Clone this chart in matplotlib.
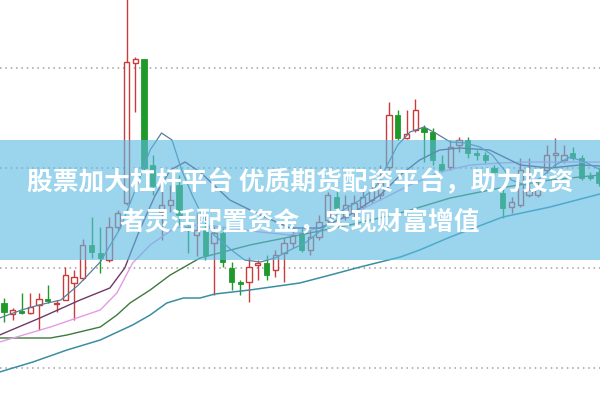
import numpy as np
import matplotlib
matplotlib.use('Agg')
import matplotlib.pyplot as plt
from matplotlib.patches import Rectangle

plt.rcParams['font.family'] = ['Noto Sans CJK SC', 'DejaVu Sans']

# %%
# candles (price units)
opens  = [1.65, 1.54, 1.57, 1.55, 1.63, 1.69, 1.64, 1.68, 1.85, 1.90,
          2.23, 2.15, 2.08, 2.41, 2.65, 4.05, 4.09, 3.03, 2.56, 2.63,
          2.83, 2.42, 2.33, 2.40, 2.25, 2.35, 2.00, 1.86, 1.86, 2.03,
          2.05, 1.98, 2.15, 2.25, 2.35, 2.18, 2.31, 2.48, 2.71, 2.51,
          2.55, 2.61, 2.68, 2.73, 3.01, 3.53, 3.30, 3.38, 3.40, 3.36,
          3.04, 3.01, 3.23, 3.28, 3.15, 3.13, 3.00, 2.75, 2.61, 2.63,
          2.73, 2.73, 2.98, 3.13, 3.08, 3.15, 3.10, 2.92, 2.96]
closes = [1.56, 1.58, 1.55, 1.61, 1.69, 1.67, 1.65, 1.93, 1.91, 2.23,
          2.16, 2.10, 2.41, 2.55, 4.06, 4.09, 3.00, 2.82, 2.63, 2.68,
          2.53, 2.40, 2.38, 2.13, 2.35, 2.06, 1.86, 1.84, 2.01, 2.05,
          1.93, 2.13, 2.25, 2.33, 2.18, 2.31, 2.46, 2.73, 2.60, 2.63,
          2.65, 2.71, 2.78, 2.88, 3.53, 3.30, 3.34, 3.58, 3.36, 3.08,
          2.98, 3.21, 3.28, 3.15, 3.13, 3.08, 2.96, 2.60, 2.66, 2.98,
          2.78, 2.80, 3.13, 3.15, 3.13, 3.10, 2.90, 2.90, 2.85]
highs  = [1.70, 1.60, 1.75, 1.75, 1.75, 1.83, 1.68, 2.01, 1.98, 2.29,
          2.51, 2.41, 2.51, 2.58, 4.73, 4.11, 4.09, 3.13, 2.78, 2.83,
          2.93, 2.55, 2.55, 2.55, 2.43, 2.40, 2.06, 1.88, 2.11, 2.08,
          2.13, 2.18, 2.30, 2.43, 2.40, 2.38, 2.53, 2.76, 2.78, 2.73,
          2.73, 2.78, 2.88, 3.03, 3.66, 3.58, 3.58, 3.69, 3.43, 3.40,
          3.13, 3.28, 3.31, 3.31, 3.18, 3.16, 3.03, 2.81, 2.71, 3.10,
          3.10, 2.88, 3.23, 3.30, 3.23, 3.21, 3.13, 2.96, 3.00]
lows   = [1.46, 1.48, 1.54, 1.54, 1.38, 1.65, 1.56, 1.68, 1.48, 1.88,
          2.10, 1.95, 2.06, 2.38, 2.63, 3.56, 2.98, 2.73, 2.28, 2.56,
          2.43, 2.15, 2.12, 2.08, 1.73, 2.01, 1.78, 1.73, 1.66, 1.88,
          1.88, 1.91, 1.86, 2.20, 2.16, 2.13, 2.28, 2.46, 2.48, 2.48,
          2.50, 2.58, 2.65, 2.68, 2.98, 3.28, 3.29, 3.36, 3.06, 3.03,
          2.96, 2.98, 3.16, 3.10, 3.08, 3.05, 2.93, 2.50, 2.55, 2.61,
          2.71, 2.71, 2.95, 3.01, 3.05, 3.08, 2.88, 2.88, 2.82]

# moving average lines (index, value)
ma5_x = [-0.5, 2, 4, 6.5, 8.5, 11, 13.3, 15, 16.7, 18, 19.2, 20.3, 21.5, 22.6,
         24, 26, 27.5, 29.3, 31, 32.7, 34.4, 36, 38.4, 40.7, 42.4, 43.5, 45,
         46.4, 48, 49.3, 51, 52.7, 54.4, 55.8, 57, 58, 59.5, 61.3, 63, 64.7,
         66.4, 68.2]
ma5_y = [1.50, 1.58, 1.63, 1.68, 1.83, 2.06, 2.40, 2.78, 3.18, 3.35, 3.28, 2.98,
         2.73, 2.53, 2.33, 2.18, 2.08, 2.06, 2.10, 2.18, 2.25, 2.36, 2.56, 2.68,
         2.80, 2.98, 3.23, 3.36, 3.41, 3.35, 3.26, 3.25, 3.21, 3.13, 3.00, 2.88,
         2.83, 2.90, 3.03, 3.11, 3.06, 2.98]
ma10_x = [-0.5, 4.1, 8.7, 12.1, 13.8, 15.5, 17.3, 19, 20.7, 22.4, 25.8, 29.3,
          32.7, 36.1, 39.5, 43, 45.3, 47.5, 49.8, 52.1, 55.5, 59, 62.4, 65.8, 68.1]
ma10_y = [1.33, 1.50, 1.68, 1.80, 2.00, 2.38, 2.73, 2.98, 3.06, 2.96, 2.68, 2.53,
          2.40, 2.40, 2.53, 2.73, 2.93, 3.08, 3.18, 3.20, 3.18, 3.03, 3.00, 3.03, 3.02]
ma20_x = [-0.5, 5.3, 11, 12.9, 14.7, 16.7, 19.5, 22.4, 25.8, 29.3, 32.7, 36.1,
          39.5, 43, 46.4, 49.8, 53.3, 56.7, 60.1, 63.5, 68.1]
ma20_y = [1.26, 1.41, 1.58, 1.75, 2.05, 2.23, 2.40, 2.43, 2.40, 2.36, 2.33, 2.40,
          2.53, 2.68, 2.83, 2.96, 3.03, 3.05, 3.06, 3.06, 3.06]
ma30_x = [-0.5, 5.3, 7.2, 11, 12.9, 14.4, 16.7, 19, 22.4, 28.1, 33.8, 39.5,
          45.3, 51, 56.7, 62.4, 68.1]
ma30_y = [1.30, 1.30, 1.33, 1.41, 1.53, 1.65, 1.78, 1.93, 2.10, 2.23, 2.33, 2.43,
          2.55, 2.70, 2.80, 2.88, 2.93]
ma60_x = [-0.5, 3.3, 7.2, 11, 14.7, 16.7, 18.6, 20.5, 22.4, 24.1, 28.1, 33.8,
          37.3, 40.7, 45.3, 47.5, 51, 57, 62.4, 68.1]
ma60_y = [0.96, 1.06, 1.18, 1.28, 1.43, 1.53, 1.65, 1.70, 1.70, 1.74, 1.78, 1.85,
          1.93, 2.01, 2.11, 2.18, 2.31, 2.51, 2.61, 2.74]

grid_levels = [1.0, 2.0, 3.0, 4.0]

line1 = '股票加大杠杆平台 优质期货配资平台，助力投资'
line2 = '者灵活配置资金，实现财富增值'

# %%
fig = plt.figure(figsize=(6, 4.01), dpi=100)
ax = fig.add_axes([0, 0, 1, 1])
ax.set_xlim(-0.457, 68.11)
ax.set_ylim(0.67, 4.68)
ax.axis('off')

for level in grid_levels:
    ax.axhline(level, color='#a0a0a0', lw=1.1, ls=(0, (1, 2.5)), zorder=0)

red = '#cc3b3b'
green = '#1f9a2a'
idx = np.arange(len(opens))
o = np.array(opens)
c = np.array(closes)
h = np.array(highs)
l = np.array(lows)
up = c >= o

# wicks first, bodies on top (white fill hides the wick inside hollow candles)
ax.vlines(idx[up], l[up], h[up], color=red, lw=1, zorder=2)
ax.vlines(idx[~up], l[~up], h[~up], color=green, lw=1, zorder=2)
ax.bar(idx[up], c[up] - o[up], bottom=o[up], width=0.6,
       facecolor='white', edgecolor=red, lw=1, zorder=3)
ax.bar(idx[~up], o[~up] - c[~up], bottom=c[~up], width=0.6,
       facecolor=green, edgecolor=green, lw=0.6, zorder=3)

ax.plot(ma60_x, ma60_y, color='#3a8ea3', lw=1.1, zorder=4)
ax.plot(ma30_x, ma30_y, color='#3d7a3d', lw=1, zorder=4)
ax.plot(ma20_x, ma20_y, color='#e39be3', lw=1, zorder=4)
ax.plot(ma10_x, ma10_y, color='#6e3a66', lw=1, zorder=4)
ax.plot(ma5_x, ma5_y, color='#5a7c9c', lw=0.9, zorder=4)

# translucent banner with the headline
fig.add_artist(Rectangle((0, 1 - 260 / 401), 1, 120 / 401,
                         transform=fig.transFigure, facecolor='#5cbbe3',
                         edgecolor='none', alpha=0.62, zorder=10))
fig.text(0.5, 1 - 183 / 401, line1, ha='center', va='center', color='white',
         fontsize=18.5, fontweight='bold', zorder=11)
fig.text(0.5, 1 - 222 / 401, line2, ha='center', va='center', color='white',
         fontsize=18.5, fontweight='bold', zorder=11)

fig.savefig('out.png', dpi=100)
